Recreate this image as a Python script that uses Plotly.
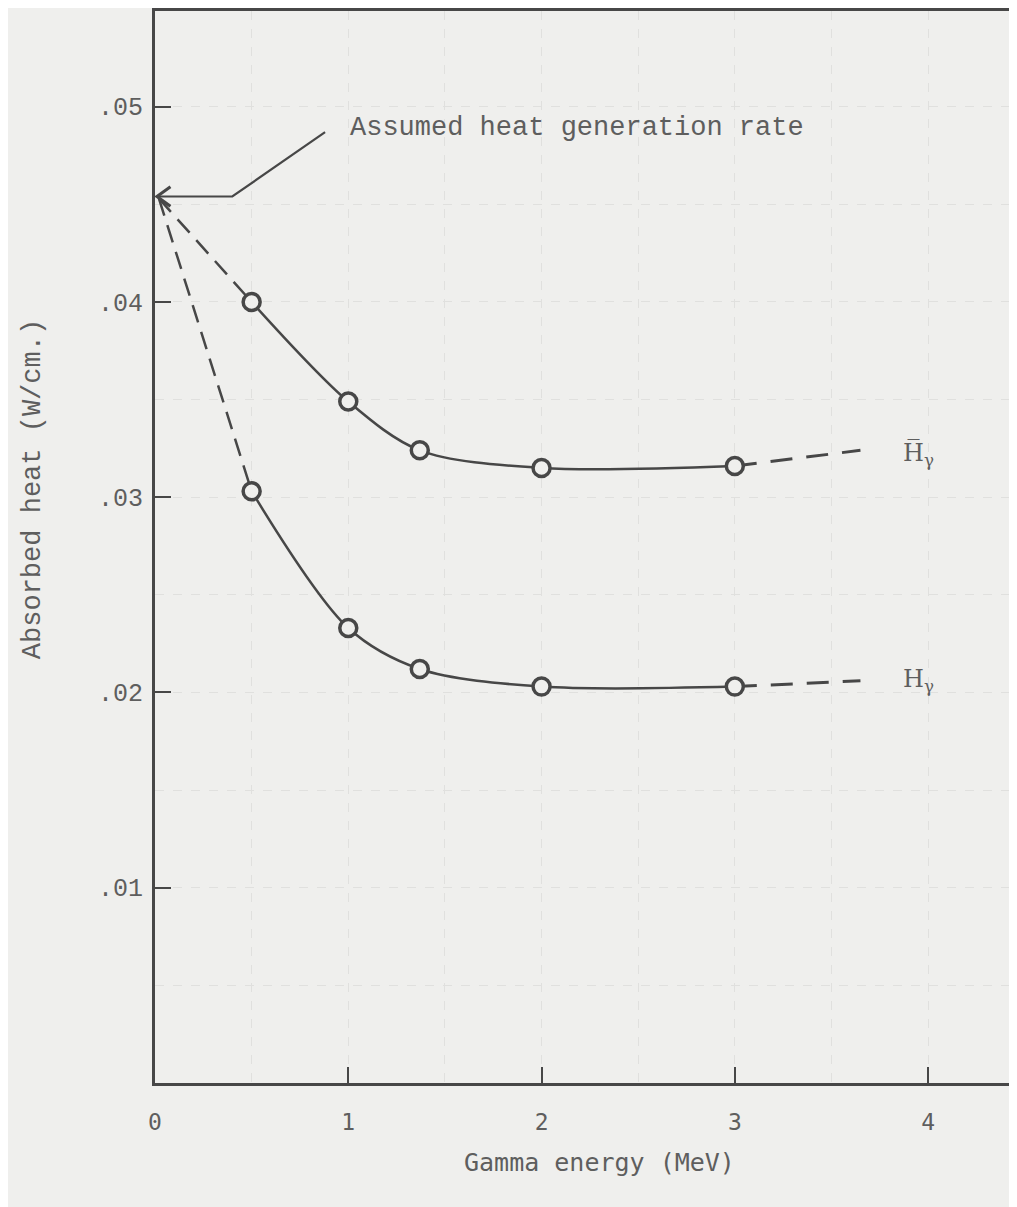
import plotly.graph_objects as go

# Data
energy = [0.5, 1.0, 1.37, 2.0, 3.0]
h_bar = [0.0400, 0.0349, 0.0324, 0.0315, 0.0316]
h_gamma = [0.0303, 0.0233, 0.0212, 0.0203, 0.0203]

assumed_rate = 0.0453
start_x = [0.02, 0.5]
hbar_start = [assumed_rate, 0.0400]
hg_start = [assumed_rate, 0.0303]
ext_x = [3.0, 3.65]
hbar_ext = [0.0316, 0.0324]
hg_ext = [0.0203, 0.0206]

# annotation leader (bent line with open chevron head)
leader_x = [0.88, 0.40, 0.01]
leader_y = [0.0487, 0.0454, 0.0454]
chevron_x = [0.08, 0.01, 0.08]
chevron_y = [0.0459, 0.0454, 0.0449]

xtick_vals = [0, 1, 2, 3, 4]
xtick_text = ["0", "1", "2", "3", "4"]
ytick_vals = [0.01, 0.02, 0.03, 0.04, 0.05]
ytick_text = [".01", ".02", ".03", ".04", ".05"]

BG = "#efefed"
INK = "#474747"
TXT = "#5e5e5e"
GRID = "#e0e0de"
dash = "18px,10px"

fig = go.Figure()

# dashed segments from the assumed rate to first points
for ys in (hbar_start, hg_start):
    fig.add_trace(go.Scatter(x=start_x, y=ys, mode="lines",
                             line=dict(color=INK, width=2.5, dash=dash), hoverinfo="skip"))
# dashed extensions
for ys in (hbar_ext, hg_ext):
    fig.add_trace(go.Scatter(x=ext_x, y=ys, mode="lines",
                             line=dict(color=INK, width=3, dash="22px,14px"), hoverinfo="skip"))

# smooth solid curves with circle markers
for ys in (h_bar, h_gamma):
    fig.add_trace(go.Scatter(
        x=energy, y=ys, mode="lines+markers",
        line=dict(color=INK, width=2.5, shape="spline", smoothing=0.9),
        marker=dict(symbol="circle", size=17, color=BG,
                    line=dict(color=INK, width=3.5)),
        hoverinfo="skip"))

# leader line and chevron for the annotation
fig.add_trace(go.Scatter(x=leader_x, y=leader_y, mode="lines",
                         line=dict(color=INK, width=2.2), hoverinfo="skip"))
fig.add_trace(go.Scatter(x=chevron_x, y=chevron_y, mode="lines",
                         line=dict(color=INK, width=3), hoverinfo="skip"))

fig.add_annotation(x=1.0, y=0.0489, xref="x", yref="y", xanchor="left",
                   yanchor="middle",
                   text="Assumed heat generation rate", showarrow=False,
                   font=dict(family="Liberation Mono", size=27, color=TXT))

fig.add_annotation(x=3.86, y=0.0322, xref="x", yref="y", xanchor="left",
                   yanchor="middle",
                   text="H\u0305<sub>\u03b3</sub>", showarrow=False,
                   font=dict(family="DejaVu Serif", size=24, color=TXT))
fig.add_annotation(x=3.86, y=0.0206, xref="x", yref="y", xanchor="left",
                   yanchor="middle",
                   text="H<sub>\u03b3</sub>", showarrow=False,
                   font=dict(family="DejaVu Serif", size=24, color=TXT))

# axis titles
fig.add_annotation(x=-0.1415, y=0.554, xref="paper", yref="paper",
                   xanchor="center", yanchor="middle",
                   text="Absorbed heat (W/cm.)", showarrow=False, textangle=-90,
                   font=dict(family="Liberation Mono", size=27, color=TXT))
fig.add_annotation(x=0.516, y=-0.0744, xref="paper", yref="paper",
                   xanchor="center", yanchor="middle",
                   text="Gamma energy (MeV)", showarrow=False,
                   font=dict(family="DejaVu Sans Mono", size=25, color=TXT))

fig.update_layout(
    width=1009, height=1199,
    margin=dict(l=147, r=0, t=0, b=124),
    paper_bgcolor=BG, plot_bgcolor=BG,
    showlegend=False,
    xaxis=dict(range=[0, 4.46], showline=True, linecolor=INK, linewidth=3,
               mirror=True,
               tickmode="array", tickvals=xtick_vals, ticktext=xtick_text,
               ticks="inside", ticklen=16, tickwidth=2, tickcolor=INK,
               ticklabelstandoff=16,
               tickfont=dict(family="DejaVu Sans Mono", size=23, color=TXT),
               showgrid=True, gridcolor=GRID, griddash="dash", gridwidth=1,
               minor=dict(dtick=0.5, tick0=0, showgrid=True, gridcolor=GRID,
                          griddash="dash"),
               zeroline=False),
    yaxis=dict(range=[0, 0.0549], showline=True, linecolor=INK, linewidth=3,
               mirror=False,
               tickmode="array", tickvals=ytick_vals, ticktext=ytick_text,
               ticks="inside", ticklen=16, tickwidth=2, tickcolor=INK,
               ticklabelstandoff=4,
               tickfont=dict(family="Liberation Mono", size=25, color=TXT),
               showgrid=True, gridcolor=GRID, griddash="dash", gridwidth=1,
               minor=dict(dtick=0.005, tick0=0, showgrid=True, gridcolor=GRID,
                          griddash="dash"),
               zeroline=False),
)

fig.write_html("out.html")
